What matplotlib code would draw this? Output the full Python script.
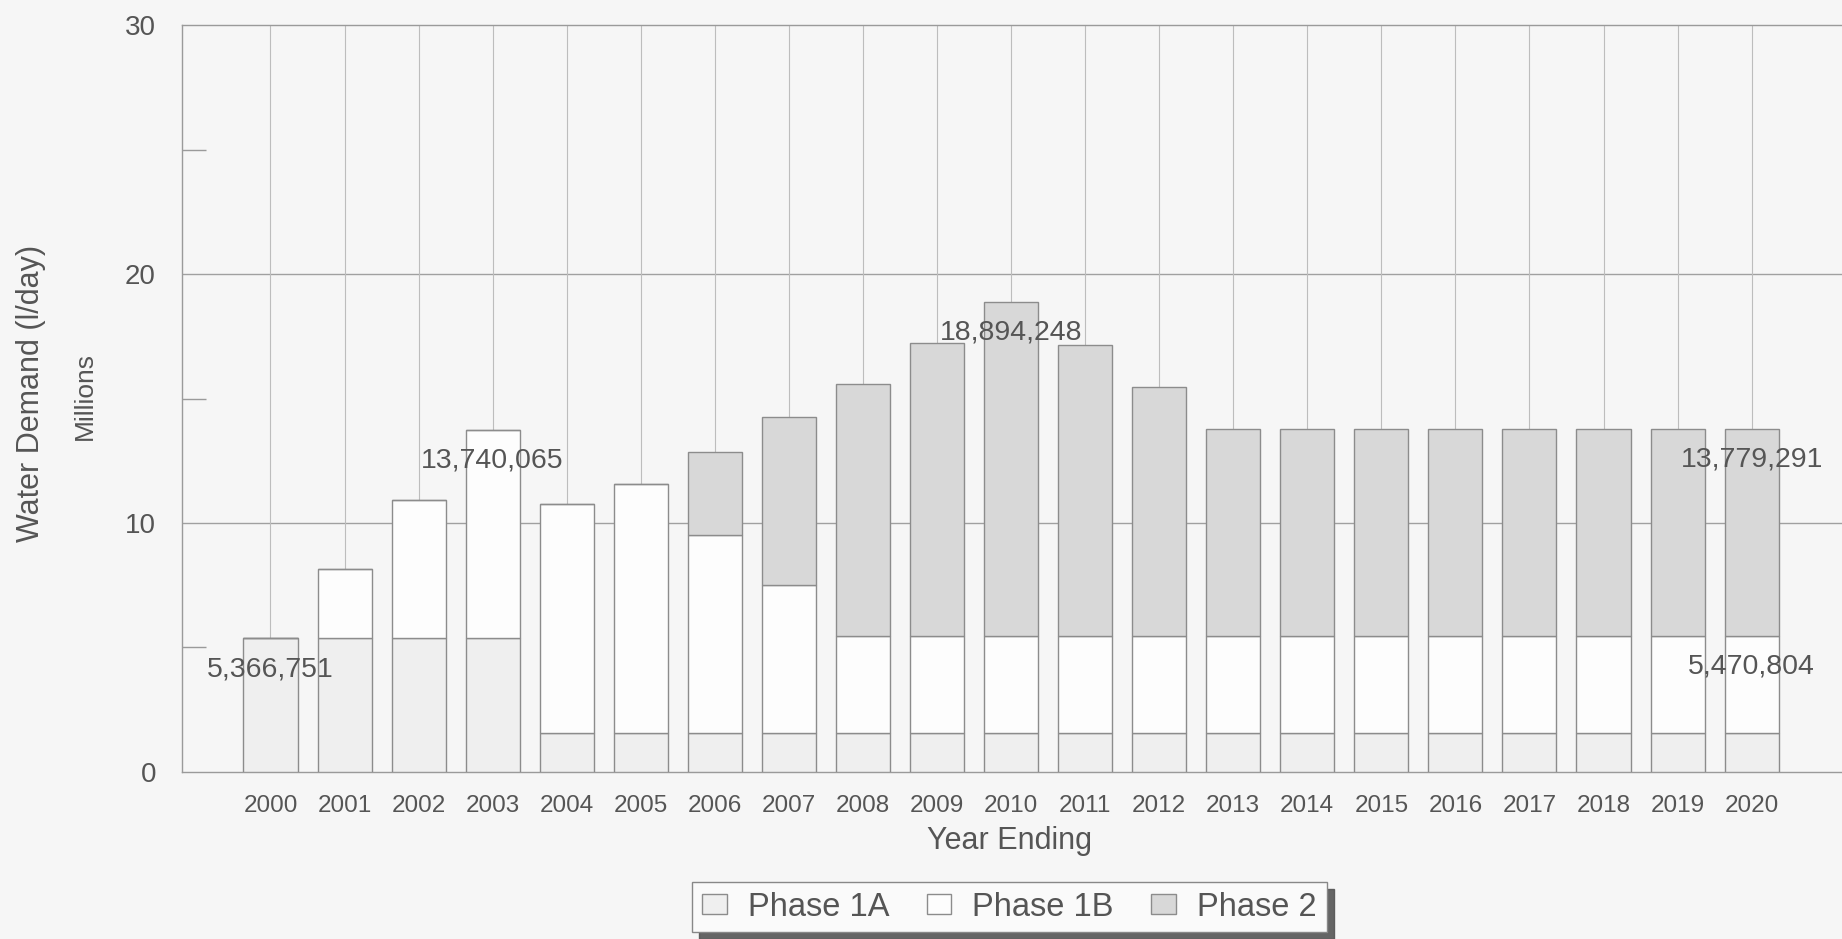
import matplotlib
matplotlib.use("Agg")
import matplotlib.pyplot as plt
import numpy as np

plt.rcParams['font.family'] = ['Liberation Sans', 'DejaVu Sans']

years = [str(y) for y in range(2000, 2021)]
# values in millions of l/day
phase_1a = [5.366751, 5.37, 5.37, 5.37, 1.55, 1.55, 1.55, 1.55, 1.55, 1.55, 1.55,
            1.55, 1.55, 1.55, 1.55, 1.55, 1.55, 1.55, 1.55, 1.55, 1.55]
phase_1b = [0.0, 2.78, 5.56, 8.370065, 9.22, 10.0, 7.95, 5.95, 3.920804, 3.920804, 3.920804,
            3.920804, 3.920804, 3.920804, 3.920804, 3.920804, 3.920804, 3.920804, 3.920804,
            3.920804, 3.920804]
phase_2 = [0.0, 0.0, 0.0, 0.0, 0.0, 0.0, 3.35, 6.75, 10.13, 11.78, 13.423444,
           11.68, 9.98, 8.308487, 8.308487, 8.308487, 8.308487, 8.308487, 8.308487,
           8.308487, 8.308487]
# annotated values
label_years = ['2000', '2003', '2010', '2020', '2020']
label_values = [5.366751, 13.740065, 18.894248, 13.779291, 5.470804]
label_texts = ['5,366,751', '13,740,065', '18,894,248', '13,779,291', '5,470,804']

text_c = '#555555'
line_c = '#8c8c8c'
bg = '#f6f6f6'

fig = plt.figure(figsize=(18.42, 9.39), dpi=100, facecolor=bg)
ax = fig.add_axes([0.099, 0.178, 0.905, 0.795], facecolor=bg)

x = np.arange(len(years))
w = 0.73
p1a = np.array(phase_1a)
p1b = np.array(phase_1b)
p2 = np.array(phase_2)

ax.bar(x, p1a, w, color='#efefef', edgecolor=line_c, linewidth=1.0, label='Phase 1A', zorder=3)
ax.bar(x, p1b, w, bottom=p1a, color='#fdfdfd', edgecolor=line_c, linewidth=1.0, label='Phase 1B', zorder=3)
ax.bar(x, p2, w, bottom=p1a + p1b, color='#d8d8d8', edgecolor=line_c, linewidth=1.0, label='Phase 2', zorder=3)

for yr, val, txt in zip(label_years, label_values, label_texts):
    xi = years.index(yr)
    ax.annotate(txt, (xi, val), xytext=(0, -31), textcoords='offset pixels',
                ha='center', va='center', fontsize=20.5, color=text_c, zorder=5)

ax.set_xlim(-1.19, 21.32)
ax.set_ylim(0, 30)
ax.set_xticks(x)
ax.set_xticklabels(years)
ax.set_yticks([0, 10, 20, 30])
ax.set_yticks([5, 15, 25], minor=True)
ax.tick_params(axis='x', length=0, pad=17, labelsize=17.5, labelcolor=text_c)
ax.tick_params(axis='y', which='major', length=0, pad=19, labelsize=20, labelcolor=text_c)
ax.tick_params(axis='y', which='minor', direction='in', length=17, width=1.0, color='#9a9a9a')

for yv in [10, 20]:
    ax.axhline(yv, color='#a0a0a0', linewidth=1.0, zorder=1)
for xi in x:
    ax.axvline(xi, color='#bdbdbd', linewidth=0.8, zorder=1)

for s in ['left', 'bottom', 'top']:
    ax.spines[s].set_color('#9a9a9a')
    ax.spines[s].set_linewidth(1.0)
ax.spines['right'].set_visible(False)

fig.text(0.548, 0.104, 'Year Ending', ha='center', va='center', fontsize=22, color=text_c)
fig.text(0.017, 0.581, 'Water Demand (l/day)', rotation=90, ha='center', va='center',
         fontsize=22, color=text_c)
fig.text(0.046, 0.578, 'Millions', rotation=90, ha='center', va='center',
         fontsize=19, color=text_c)

leg = fig.legend(loc='center', bbox_to_anchor=(0.548, 0.034), ncol=3, fontsize=23.5,
                 frameon=True, fancybox=False, edgecolor='#888888', facecolor='#fafafa',
                 handlelength=0.75, handleheight=0.55, handletextpad=0.65, columnspacing=1.15,
                 borderpad=0.3, borderaxespad=0.0, labelcolor=text_c,
                 shadow={'ox': 5, 'oy': -5, 'color': '#555555', 'alpha': 0.9})
leg.get_frame().set_linewidth(1.0)

fig.savefig('out.png', dpi=100, facecolor=bg)
